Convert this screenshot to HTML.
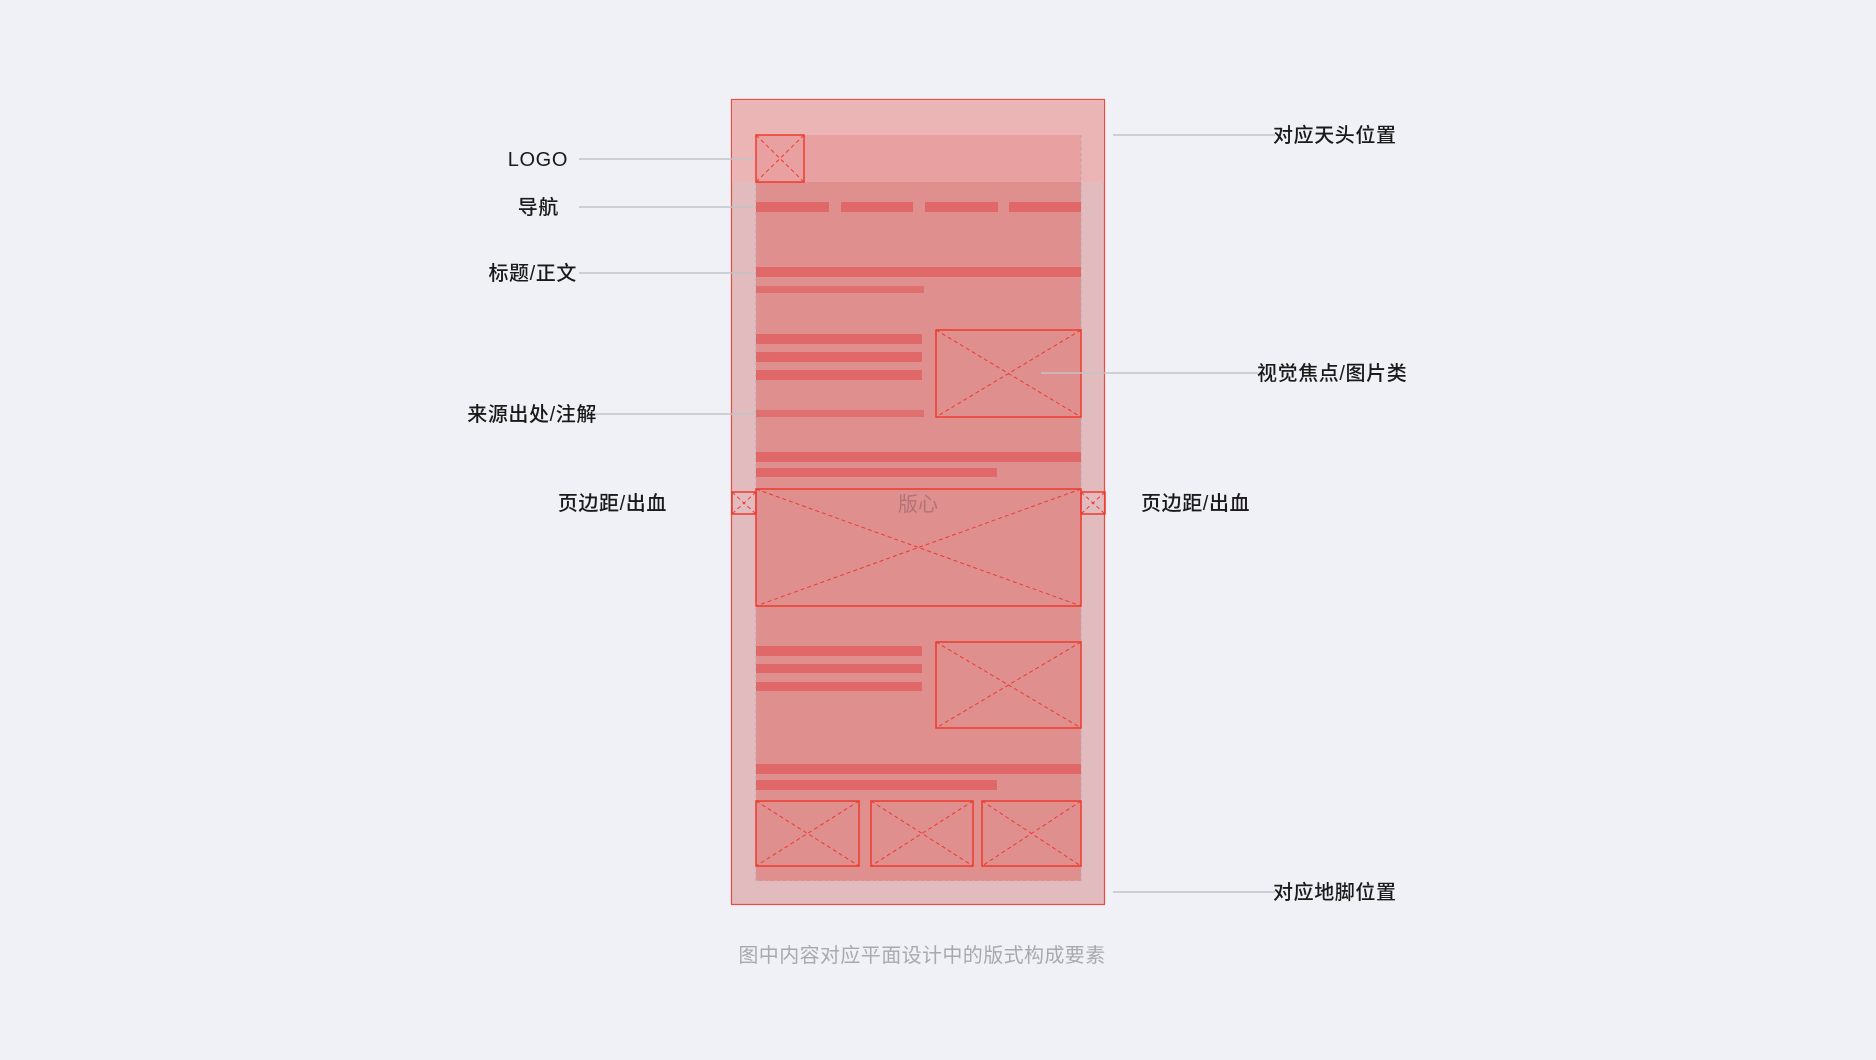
<!DOCTYPE html>
<html><head><meta charset="utf-8"><style>
html,body{margin:0;padding:0;background:#f0f1f6;}
svg{display:block}
text{font-family:"Liberation Sans","Noto Sans CJK SC",sans-serif;}
</style></head><body>
<svg width="1876" height="1060" viewBox="0 0 1876 1060" xmlns="http://www.w3.org/2000/svg">
<rect x="0" y="0" width="1876" height="1060" fill="#f0f1f6"/>
<!-- outer page -->
<rect x="731.5" y="99.5" width="373" height="805" fill="#e2bbbe" stroke="#ee4a3e" stroke-width="1.2"/>
<rect x="732" y="100" width="372" height="82" fill="#ebb5b5"/>
<!-- content area -->
<rect x="756" y="135" width="325" height="746" fill="#e08f8f"/>
<rect x="756" y="135" width="325" height="47" fill="#e9a0a0"/>
<line x1="756" y1="182" x2="756" y2="881" stroke="#b8a8aa" stroke-width="1" stroke-dasharray="3,3"/>
<line x1="1081" y1="135" x2="1081" y2="881" stroke="#b8a8aa" stroke-width="1" stroke-dasharray="3,3"/>
<line x1="756" y1="881" x2="1081" y2="881" stroke="#d8b0b0" stroke-width="1" stroke-dasharray="3,3"/>
<!-- bars -->
<g fill="#e06868">
<rect x="756" y="202" width="73" height="10"/><rect x="841" y="202" width="72" height="10"/><rect x="925" y="202" width="73" height="10"/><rect x="1009" y="202" width="72" height="10"/>
<rect x="756" y="267" width="325" height="10"/>
<rect x="756" y="286" width="168" height="7" opacity="0.8"/>
<rect x="756" y="334" width="166" height="10"/><rect x="756" y="352" width="166" height="10"/><rect x="756" y="370" width="166" height="10"/>
<rect x="756" y="410" width="168" height="7" opacity="0.8"/>
<rect x="756" y="452" width="325" height="10"/><rect x="756" y="468" width="241" height="9"/>
<rect x="756" y="646" width="166" height="10"/><rect x="756" y="664" width="166" height="9"/><rect x="756" y="682" width="166" height="9"/>
<rect x="756" y="764" width="325" height="10"/><rect x="756" y="780" width="241" height="10"/>
</g>
<!-- image boxes -->
<g fill="none" stroke="#ee3a2e" stroke-width="1.5">
<rect x="756" y="135" width="48" height="47"/>
<rect x="936" y="330" width="145" height="87"/>
<rect x="756" y="489" width="325" height="117"/>
<rect x="732" y="492" width="24" height="22"/>
<rect x="1081" y="492" width="24" height="22"/>
<rect x="936" y="642" width="145" height="86"/>
<rect x="756" y="801" width="103" height="65"/>
<rect x="871" y="801" width="102" height="65"/>
<rect x="982" y="801" width="99" height="65"/>
</g>
<g stroke="#ee3a2e" stroke-width="1" stroke-dasharray="4,3" fill="none">
<path d="M756 135L804 182M804 135L756 182"/>
<path d="M936 330L1081 417M1081 330L936 417"/>
<path d="M756 489L1081 606M1081 489L756 606"/>
<path d="M732 492L756 514M756 492L732 514"/>
<path d="M1081 492L1105 514M1105 492L1081 514"/>
<path d="M936 642L1081 728M1081 642L936 728"/>
<path d="M756 801L859 866M859 801L756 866"/>
<path d="M871 801L973 866M973 801L871 866"/>
<path d="M982 801L1081 866M1081 801L982 866"/>
</g>
<text x="918" y="511" font-size="20" fill="#b07476" text-anchor="middle">版心</text>
<!-- connectors -->
<g stroke="#c2c3c8" stroke-width="1.5">
<line x1="579" y1="159" x2="755" y2="159"/>
<line x1="579" y1="207" x2="755" y2="207"/>
<line x1="579" y1="273" x2="755" y2="273"/>
<line x1="590" y1="414" x2="755" y2="414"/>
<line x1="1113" y1="135" x2="1275" y2="135"/>
<line x1="1041" y1="373" x2="1258" y2="373"/>
<line x1="1113" y1="892" x2="1275" y2="892"/>
</g>
<!-- labels -->
<g font-size="20" fill="#1a1a1a" font-weight="500" letter-spacing="0.6">
<text x="568" y="166" text-anchor="end">LOGO</text>
<text x="559" y="214" text-anchor="end">导航</text>
<text x="577" y="280" text-anchor="end">标题/正文</text>
<text x="597" y="421" text-anchor="end">来源出处/注解</text>
<text x="667" y="510" text-anchor="end">页边距/出血</text>
<text x="1141" y="510">页边距/出血</text>
<text x="1273" y="142">对应天头位置</text>
<text x="1257" y="380">视觉焦点/图片类</text>
<text x="1273" y="899">对应地脚位置</text>
</g>
<text x="922" y="962" font-size="20" fill="#a8a9ae" text-anchor="middle" letter-spacing="0.4">图中内容对应平面设计中的版式构成要素</text>
</svg>
</body></html>
